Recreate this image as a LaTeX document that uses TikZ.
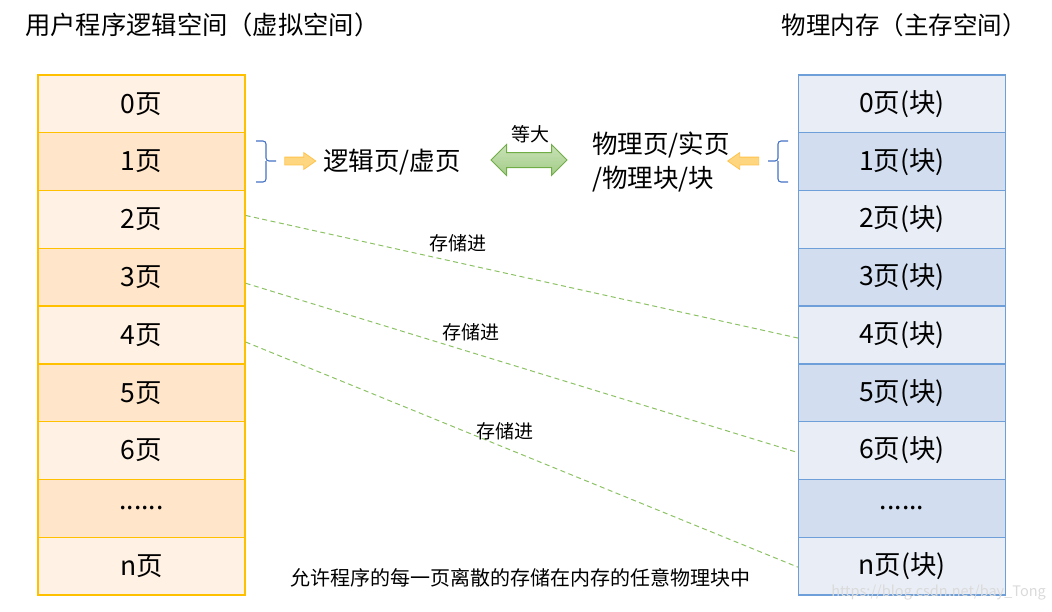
\documentclass[tikz,border=0pt]{standalone}
\usepackage{fontspec}
\setmainfont{Noto Sans CJK SC}
\usetikzlibrary{shapes.arrows,calc}
\definecolor{lfA}{HTML}{FFF2E4}
\definecolor{lfB}{HTML}{FFE6CA}
\definecolor{lbd}{HTML}{FFC000}
\definecolor{rfA}{HTML}{E9EDF6}
\definecolor{rfB}{HTML}{D2DEEF}
\definecolor{rbd}{HTML}{6E9FD8}
\definecolor{dashg}{HTML}{8CC264}
\definecolor{brc}{HTML}{4472C4}
\definecolor{orf}{HTML}{FFD680}
\definecolor{orb}{HTML}{FFC34D}
\definecolor{grt}{HTML}{C9E2B8}
\definecolor{grb}{HTML}{A2CC86}
\definecolor{grd}{HTML}{70AD47}
\definecolor{wm}{HTML}{DADADA}
\newcommand\sixdots{......}
\tikzset{
  rowL0/.style={draw=lbd,fill=lfA},
  rowL1/.style={draw=lbd,fill=lfB},
  rowR0/.style={draw=rbd,fill=rfA},
  rowR1/.style={draw=rbd,fill=rfB},
  rowbox/.style={rectangle,minimum width=207pt,minimum height=57.78pt,inner sep=0pt,line width=1.3pt,
    font=\fontsize{26.5pt}{30pt}\selectfont},
  bigtxt/.style={font=\fontsize{25.5pt}{34pt}\selectfont,inner sep=0pt},
  titletxt/.style={font=\fontsize{24.5pt}{30pt}\selectfont,inner sep=0pt},
  smalltxt/.style={font=\fontsize{19pt}{24pt}\selectfont,inner sep=0pt},
  storeline/.style={draw=dashg,line width=1pt,dash pattern=on 5pt off 3.5pt},
  bracelook/.style={draw=brc,line width=1.1pt,rounded corners=3pt},
  orarrow/.style={single arrow,fill=orf,draw=orb,line width=0.8pt,inner sep=3.5pt,
    single arrow head extend=4.5pt,single arrow tip angle=70,minimum height=31pt},
}
\begin{document}
\begin{tikzpicture}[x=1pt,y=-1pt]
\useasboundingbox (0,0) rectangle (1052,611);
% titles
\node[titletxt,anchor=west,font=\fontsize{25.3pt}{30pt}\selectfont] (tl) at (25,25) {用户程序逻辑空间（虚拟空间）};
\node[titletxt,anchor=east] (tr) at (1027,25) {物理内存（主存空间）};
% columns
\foreach \t [count=\i from 0, evaluate=\i as \c using {int(mod(\i,2))}] in {0页,1页,2页,3页,4页,5页,6页,\sixdots,n页}{
  \node[rowbox,rowL\c] (L\i) at (141.5,{75+57.78*\i+28.89}) {\raisebox{-2pt}{\t}};
}
\foreach \t [count=\i from 0, evaluate=\i as \c using {int(mod(\i,2))}] in {0页(块),1页(块),2页(块),3页(块),4页(块),5页(块),6页(块),\sixdots,n页(块)}{
  \node[rowbox,rowR\c] (R\i) at (902,{75+57.78*\i+28.89}) {\raisebox{-2pt}{\t}};
}
% dashed mapping lines
\draw[storeline] ([yshift=4pt]L2.east) -- ([yshift=-3pt]R4.west);
\draw[storeline] ([yshift=-6pt]L3.east) -- ([yshift=-2pt]R6.west);
\draw[storeline] ([yshift=-7pt]L4.east) -- ([yshift=-1pt]R8.west);
\node[smalltxt] (s1) at (458,243) {存储进};
\node[smalltxt] (s2) at (471,332) {存储进};
\node[smalltxt] (s3) at (505,431) {存储进};
% braces
\draw[bracelook] (256,141) -- (266,141) -- (266,161) -- (276,161);
\draw[bracelook] (256,182) -- (266,182) -- (266,161);
\draw[bracelook] (788,141) -- (778,141) -- (778,161) -- (768,161);
\draw[bracelook] (788,182) -- (778,182) -- (778,161);
% orange arrows
\node[orarrow] (oa1) at (297.5,161) {};
\node[orarrow,shape border rotate=180] (oa2) at (746,161) {};
% middle texts
\node[bigtxt] (vp) at (392,162) {逻辑页/虚页};
\node[bigtxt,align=left,anchor=west] (pp) at (592,162) {物理页/实页\\/物理块/块};
\node[double arrow,top color=grt,bottom color=grb,draw=grd,line width=1pt,inner sep=7pt,
  double arrow head extend=8pt,double arrow tip angle=90,minimum height=76pt] (eq) at (529,160) {};
\node[smalltxt] (eqt) at (530,134) {等大};
% bottom note
\node[font=\fontsize{20pt}{24pt}\selectfont,inner sep=0pt] (note) at (520,578) {允许程序的每一页离散的存储在内存的任意物理块中};
\node[font=\fontsize{14.5pt}{18pt}\selectfont,text=wm,inner sep=0pt,anchor=east] (wmk) at (1046,593) {https://blog.csdn.net/bay\_Tong};
\end{tikzpicture}
\end{document}
